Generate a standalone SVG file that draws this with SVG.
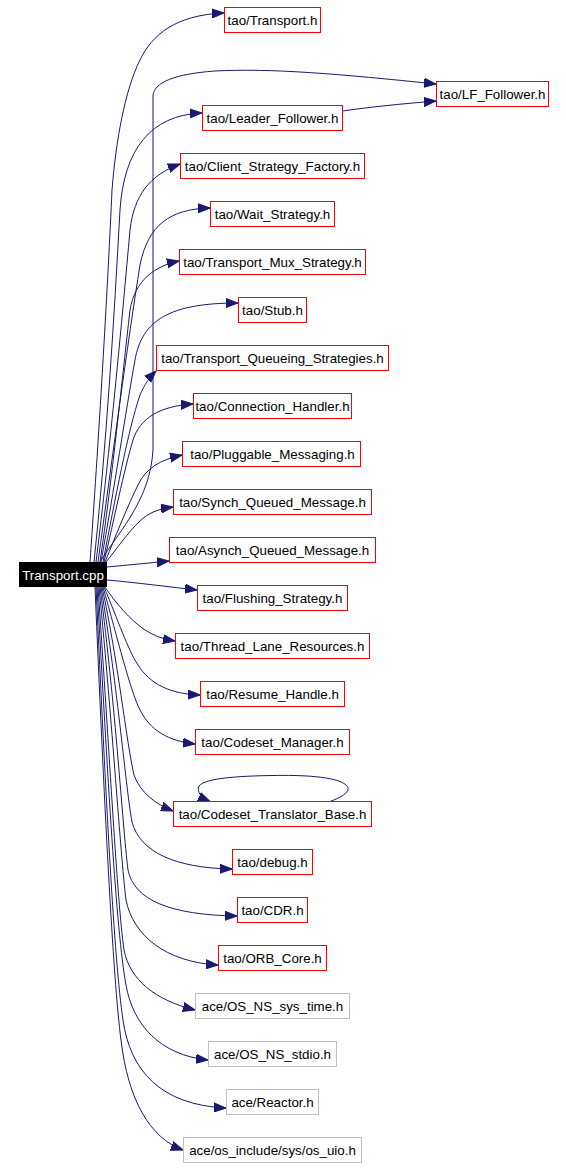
<svg xmlns="http://www.w3.org/2000/svg" width="566" height="1168" viewBox="0 0 566 1168">
<style>
.n rect{fill:#fff;stroke:#ff0000;stroke-width:1}
.g rect{fill:#fff;stroke:#bfbfbf;stroke-width:1}
text{font-family:"Liberation Sans",Arial,sans-serif;font-size:13.33px;text-anchor:middle;fill:#000}
.e path{fill:none;stroke:#191970;stroke-width:1;marker-end:url(#ah)}
</style>
<defs>
<marker id="ah" markerUnits="userSpaceOnUse" markerWidth="13" markerHeight="10" refX="12" refY="4.5" orient="auto" viewBox="0 0 13 9">
<path d="M0,0 L12,4.5 L0,9 z" fill="#191970" stroke="#191970"/>
</marker>
</defs>
<rect width="566" height="1168" fill="#fff"/>
<g class="e" id="edges">
<path d="M90,562 C100,420 108,280 112,190 C116,140 125,90 140,60 C152,35 175,15 224,13"/>
<path d="M100,562 C120,530 150,500 153,450 L153,95 C155,82 175,74 215,71 C270,68 340,74 436,84"/>
<path d="M342.5,111 C370,107 400,104 436,101"/>
<path d="M94,562 C106,450 114,320 120,210 C124,150 150,115 202,113"/>
<path d="M96,562 C110,450 122,320 130,230 C134,195 150,175 180,164"/>
<path d="M98,562 C112,460 128,340 140,265 C148,225 170,209 210,208"/>
<path d="M100,562 C112,480 122,380 130,310 C135,280 155,266 179,261"/>
<path d="M101,562 C114,490 126,410 135,360 C142,320 170,303 238,303"/>
<path d="M103,562 C115,500 128,430 140,395 C144,385 150,377 156,371"/>
<path d="M104,562 C114,520 124,470 133,440 C140,418 160,406 193,404"/>
<path d="M105,562 C116,535 128,505 138,485 C146,468 160,460 182,455"/>
<path d="M106,562 C116,550 128,532 140,521 C148,513 158,509 173,507"/>
<path d="M107,567 C128,565 150,563 169,561"/>
<path d="M107,580 C140,583 170,587 197,590"/>
<path d="M105,587 C115,602 130,620 145,630 C155,636 162,639 175,641"/>
<path d="M104,587 C118,620 128,650 138,665 C150,684 170,694 200,695"/>
<path d="M103,587 C118,640 130,690 140,710 C150,730 168,741 195,744"/>
<path d="M102,587 C118,660 126,740 134,775 C140,792 155,804 173,811"/>
<path d="M330,801.5 C345,796 352,790 346,785 C336,776 300,775 272,775.5 C240,776 205,778 199,786 C196,792 202,798 210,801.5"/>
<path d="M101,587 C118,690 126,790 132,822 C140,852 175,868 232,869"/>
<path d="M100,587 C116,710 122,820 128,870 C134,900 170,915 237,916"/>
<path d="M99,587 C113,730 120,850 126,900 C133,935 165,962 218,965"/>
<path d="M98,587 C110,760 117,900 124,950 C130,980 155,1000 195,1010"/>
<path d="M97,587 C108,780 116,930 126,985 C133,1025 160,1055 208,1060"/>
<path d="M96,587 C106,800 114,960 123,1020 C130,1070 160,1105 226,1108"/>
<path d="M95,587 C104,800 113,980 121,1040 C128,1100 150,1138 183,1150"/>
</g>
<g id="n_transport_cpp"><rect x="19" y="562" width="88" height="25" fill="#000"/><text x="63" y="579.5" fill="#fff" style="fill:#fff">Transport.cpp</text></g>
<g id="n_transport_h" class="n"><rect x="224.5" y="7.5" width="96" height="25"/><text x="272.5" y="25">tao/Transport.h</text></g>
<g id="n_lf_follower" class="n"><rect x="436.5" y="81.5" width="112" height="25"/><text x="492.5" y="99">tao/LF_Follower.h</text></g>
<g id="n_leader_follower" class="n"><rect x="202.5" y="105.5" width="140" height="25"/><text x="272.5" y="123">tao/Leader_Follower.h</text></g>
<g id="n_client_strategy_factory" class="n"><rect x="180.5" y="153.5" width="184" height="25"/><text x="272.5" y="171">tao/Client_Strategy_Factory.h</text></g>
<g id="n_wait_strategy" class="n"><rect x="210.5" y="201.5" width="124" height="25"/><text x="272.5" y="219">tao/Wait_Strategy.h</text></g>
<g id="n_transport_mux_strategy" class="n"><rect x="179.5" y="249.5" width="186" height="25"/><text x="272.5" y="267">tao/Transport_Mux_Strategy.h</text></g>
<g id="n_stub" class="n"><rect x="238.5" y="297.5" width="68" height="25"/><text x="272.5" y="315">tao/Stub.h</text></g>
<g id="n_transport_queueing_strategies" class="n"><rect x="156.5" y="345.5" width="232" height="25"/><text x="272.5" y="363">tao/Transport_Queueing_Strategies.h</text></g>
<g id="n_connection_handler" class="n"><rect x="193.5" y="393.5" width="158" height="25"/><text x="272.5" y="411">tao/Connection_Handler.h</text></g>
<g id="n_pluggable_messaging" class="n"><rect x="182.5" y="441.5" width="178" height="25"/><text x="272.5" y="459">tao/Pluggable_Messaging.h</text></g>
<g id="n_synch_queued_message" class="n"><rect x="173.5" y="489.5" width="198" height="25"/><text x="272.5" y="507">tao/Synch_Queued_Message.h</text></g>
<g id="n_asynch_queued_message" class="n"><rect x="169.5" y="537.5" width="206" height="25"/><text x="272.5" y="555">tao/Asynch_Queued_Message.h</text></g>
<g id="n_flushing_strategy" class="n"><rect x="197.5" y="585.5" width="150" height="25"/><text x="272.5" y="603">tao/Flushing_Strategy.h</text></g>
<g id="n_thread_lane_resources" class="n"><rect x="175.5" y="633.5" width="194" height="25"/><text x="272.5" y="651">tao/Thread_Lane_Resources.h</text></g>
<g id="n_resume_handle" class="n"><rect x="200.5" y="681.5" width="144" height="25"/><text x="272.5" y="699">tao/Resume_Handle.h</text></g>
<g id="n_codeset_manager" class="n"><rect x="195.5" y="729.5" width="154" height="25"/><text x="272.5" y="747">tao/Codeset_Manager.h</text></g>
<g id="n_codeset_translator_base" class="n"><rect x="173.5" y="801.5" width="198" height="25"/><text x="272.5" y="819">tao/Codeset_Translator_Base.h</text></g>
<g id="n_debug" class="n"><rect x="232.5" y="849.5" width="80" height="25"/><text x="272.5" y="867">tao/debug.h</text></g>
<g id="n_cdr" class="n"><rect x="237.5" y="897.5" width="70" height="25"/><text x="272.5" y="915">tao/CDR.h</text></g>
<g id="n_orb_core" class="n"><rect x="218.5" y="945.5" width="108" height="25"/><text x="272.5" y="963">tao/ORB_Core.h</text></g>
<g id="n_os_ns_sys_time" class="g"><rect x="195.5" y="993.5" width="154" height="25"/><text x="272.5" y="1011">ace/OS_NS_sys_time.h</text></g>
<g id="n_os_ns_stdio" class="g"><rect x="208.5" y="1041.5" width="128" height="25"/><text x="272.5" y="1059">ace/OS_NS_stdio.h</text></g>
<g id="n_reactor" class="g"><rect x="226.5" y="1089.5" width="92" height="25"/><text x="272.5" y="1107">ace/Reactor.h</text></g>
<g id="n_os_uio" class="g"><rect x="183.5" y="1137.5" width="178" height="25"/><text x="272.5" y="1155">ace/os_include/sys/os_uio.h</text></g>
</svg>
